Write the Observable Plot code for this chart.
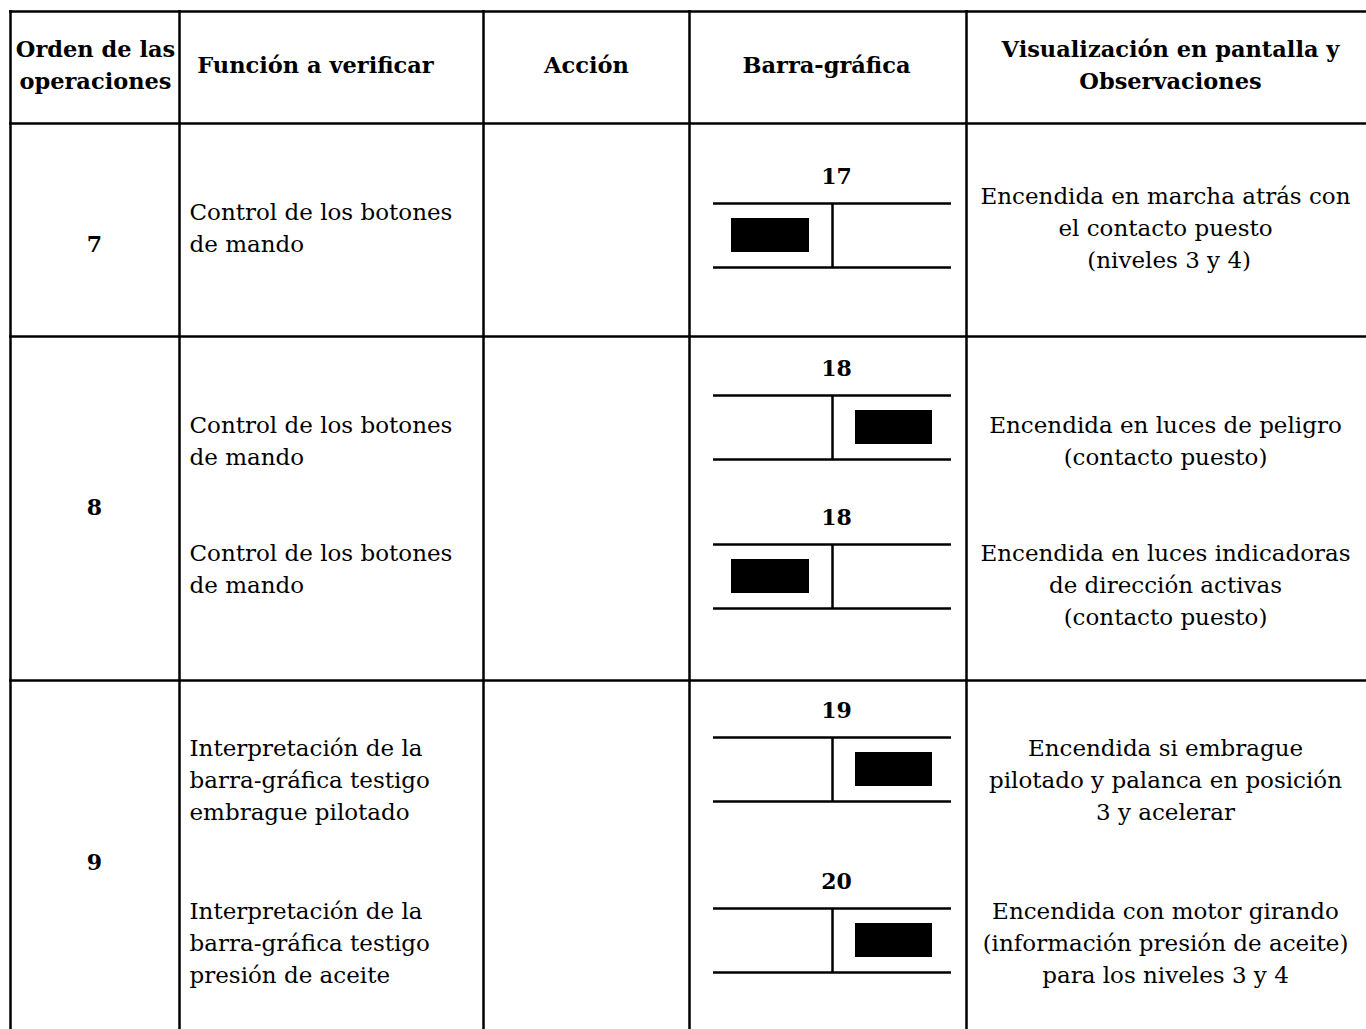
<!DOCTYPE html>
<html><head><meta charset="utf-8">
<script src="https://cdn.jsdelivr.net/npm/d3@7"></script>
<script src="https://cdn.jsdelivr.net/npm/@observablehq/plot@0.6"></script>
<style>body{margin:0;background:#fff;overflow:hidden} svg{display:block}</style>
</head><body><div id="chart"></div>
<script>
// ---- data ----
const headers = ["Orden de las\noperaciones", "Función a verificar", "Acción", "Barra-gráfica", "Visualización en pantalla y\nObservaciones"];
const orders = ["7", "8", "9"];
const itemOrder = ["7", "8", "8", "9", "9"];
const testigoNumbers = ["17", "18", "18", "19", "20"];
const litSide = ["izquierda", "derecha", "izquierda", "derecha", "derecha"];
const functions = [
  "Control de los botones\nde mando",
  "Control de los botones\nde mando",
  "Control de los botones\nde mando",
  "Interpretación de la\nbarra-gráfica testigo\nembrague pilotado",
  "Interpretación de la\nbarra-gráfica testigo\npresión de aceite"
];
const observations = [
  "Encendida en marcha atrás con\nel contacto puesto\n (niveles 3 y 4)",
  "Encendida en luces de peligro\n(contacto puesto)",
  "Encendida en luces indicadoras\nde dirección activas\n(contacto puesto)",
  "Encendida si embrague\npilotado y palanca en posición\n3 y acelerar",
  "Encendida con motor girando\n(información presión de aceite)\npara los niveles 3 y 4"
];

// ---- layout (not data) ----
const W = 1366, H = 1029;
const colEdges = [10, 179, 483, 689, 966];
const rowEdges = [11, 123, 336, 680];
const tableBottom = 1045;
const headerX = [95, 315, 586, 826, 1170];
const headerY = [49, 65, 65, 65, 49];
const orderY = [244, 507, 862];
const diagTop = [203, 395, 544, 737, 908];
const funcY = [212, 425, 553, 748, 911];
const obsY = [196, 425, 553, 748, 911];
const lineH = 32;
const diag = {x1: 713, x2: 951, mid: 832, h: 64};
const sideX = {izquierda: [731, 809], derecha: [855, 932]};
const serif = "DejaVu Serif";

function splitLines(texts, ys, x) {
  const out = [];
  texts.forEach((t, i) => t.split("\n").forEach((line, j) =>
    out.push({text: line, x: typeof x === "function" ? x(i) : x, y: ys[i] + j * lineH})));
  return out;
}

const headerLines = splitLines(headers, headerY, i => headerX[i]);
const funcLines = splitLines(functions, funcY, 189);
const obsLines = splitLines(observations, obsY, 1165);

const items = testigoNumbers.map((n, i) => ({
  n, side: litSide[i], order: itemOrder[i], top: diagTop[i]
}));

const vLines = colEdges.map(x => ({x}));
const hLines = rowEdges.map(y => ({y}));

const chart = Plot.plot({
  width: W, height: H,
  margin: 0,
  x: {domain: [0, W], range: [0, W], axis: null},
  y: {domain: [0, H], range: [0, H], axis: null},
  style: {fontFamily: serif, background: "#fff"},
  marks: [
    // table grid
    Plot.ruleX(vLines, {x: "x", y1: rowEdges[0] - 1, y2: tableBottom, stroke: "#000", strokeWidth: 2.5}),
    Plot.ruleY(hLines, {y: "y", x1: colEdges[0] - 1, x2: W, stroke: "#000", strokeWidth: 2.5}),
    // headers
    Plot.text(headerLines, {x: "x", y: "y", text: "text", fontSize: 22.5, fontWeight: "bold", fill: "#000", textAnchor: "middle"}),
    // order numbers
    Plot.text(orders, {x: 94, y: (d, i) => orderY[i], text: d => d, fontSize: 22, fontWeight: "bold", fill: "#000"}),
    // function text
    Plot.text(funcLines, {x: "x", y: "y", text: "text", fontSize: 23, fill: "#000", textAnchor: "start"}),
    // observations
    Plot.text(obsLines, {x: "x", y: "y", text: "text", fontSize: 23, fill: "#000", textAnchor: "middle"}),
    // bar-graph indicator diagrams
    Plot.text(items, {x: diag.mid + 4, y: d => d.top - 27, text: "n", fontSize: 22, fontWeight: "bold", fill: "#000"}),
    Plot.ruleY(items, {y: "top", x1: diag.x1, x2: diag.x2, stroke: "#000", strokeWidth: 2.5}),
    Plot.ruleY(items, {y: d => d.top + diag.h, x1: diag.x1, x2: diag.x2, stroke: "#000", strokeWidth: 2.5}),
    Plot.ruleX(items, {x: diag.mid, y1: "top", y2: d => d.top + diag.h, stroke: "#000", strokeWidth: 2.5}),
    Plot.rect(items, {
      x1: d => sideX[d.side][0], x2: d => sideX[d.side][1],
      y1: d => d.top + 15, y2: d => d.top + 49, fill: "#000"
    })
  ]
});
document.getElementById("chart").append(chart);
</script>
</body></html>
